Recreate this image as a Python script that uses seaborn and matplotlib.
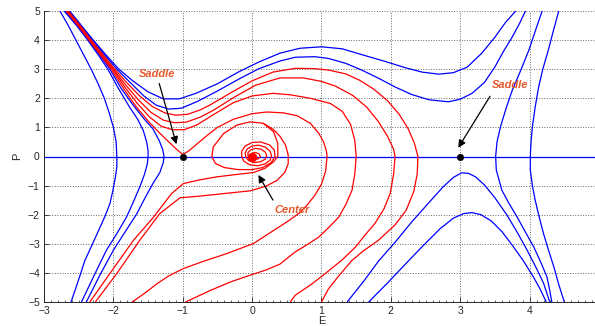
import numpy as np
import pandas as pd
import matplotlib
matplotlib.use("Agg")
import matplotlib.pyplot as plt
import seaborn as sns

# --------------------------------------------------------------------------
# trajectories (E, P)
# --------------------------------------------------------------------------
AXIS_E = [-3.0, 5.0]
AXIS_P = [0.0, 0.0]

# blue: left ")" shaped curves
B1_E = [-2.77, -2.65, -2.54, -2.43, -2.32, -2.22, -2.13, -2.06, -2.00, -1.96, -1.95,
        -1.95, -1.97, -2.01, -2.05, -2.12, -2.19, -2.30, -2.41, -2.51, -2.61]
B1_P = [5.0, 4.5, 4.0, 3.5, 3.0, 2.5, 2.0, 1.5, 1.0, 0.5, 0.0,
        -0.35, -0.70, -1.2, -1.62, -2.05, -2.42, -3.0, -3.57, -4.3, -5.0]
B2_E = [-2.71, -2.53, -2.37, -2.22, -2.08, -1.93, -1.77, -1.65, -1.57, -1.52, -1.50, -1.50,
        -1.51, -1.55, -1.62, -1.71, -1.81, -1.95, -2.10, -2.28, -2.46]
B2_P = [5.0, 4.5, 4.0, 3.5, 3.0, 2.35, 1.71, 1.28, 0.90, 0.50, 0.20, 0.0,
        -0.25, -0.6, -1.05, -1.55, -2.08, -2.65, -3.22, -4.1, -5.0]
B3_E = [-2.70, -2.52, -2.36, -2.20, -2.05, -1.89, -1.72, -1.56, -1.43, -1.34, -1.29, -1.27,
        -1.28, -1.33, -1.43, -1.55, -1.66, -1.82, -2.00, -2.20, -2.39]
B3_P = [5.0, 4.5, 4.0, 3.5, 3.0, 2.35, 1.78, 1.30, 0.95, 0.55, 0.25, 0.0,
        -0.2, -0.55, -0.93, -1.45, -1.96, -2.55, -3.22, -4.1, -5.0]

# blue: upper "S" curves
B4_E = [-2.63, -2.46, -2.29, -2.11, -1.92, -1.72, -1.50, -1.28, -1.05, -0.80, -0.50, -0.20,
        0.10, 0.40, 0.69, 1.00, 1.30, 1.58, 1.90, 2.21, 2.45, 2.69, 2.90, 3.10, 3.31, 3.50,
        3.65, 3.80]
B4_P = [5.0, 4.5, 4.0, 3.5, 3.0, 2.60, 2.22, 1.98, 1.98, 2.18, 2.50, 2.90,
        3.25, 3.55, 3.72, 3.77, 3.70, 3.50, 3.28, 3.05, 2.90, 2.83, 2.88, 3.07, 3.55, 4.10,
        4.60, 5.0]
B5_E = [-2.64, -2.47, -2.30, -2.13, -1.95, -1.76, -1.56, -1.38, -1.20, -1.02, -0.80, -0.50,
        -0.20, 0.10, 0.40, 0.62, 0.90, 1.10, 1.35, 1.58, 1.83, 2.06, 2.30, 2.55, 2.83, 3.00,
        3.17, 3.35, 3.50, 3.62, 3.75, 3.85, 3.94]
B5_P = [5.0, 4.5, 4.0, 3.5, 3.0, 2.55, 2.08, 1.76, 1.63, 1.66, 1.88, 2.25,
        2.65, 3.02, 3.28, 3.41, 3.43, 3.37, 3.20, 2.97, 2.68, 2.39, 2.13, 1.95, 1.88, 1.97,
        2.17, 2.55, 3.08, 3.60, 4.11, 4.55, 5.0]

# blue: right side
B6_E = [4.18, 4.08, 3.99, 3.87, 3.75, 3.66, 3.58, 3.53, 3.51, 3.52, 3.60, 3.70, 3.82,
        3.94, 4.06, 4.16, 4.25, 4.29, 4.32]
B6_P = [5.0, 4.3, 3.66, 2.95, 2.28, 1.65, 1.02, 0.5, 0.0, -0.47, -1.16, -1.6, -2.08,
        -2.6, -3.11, -3.63, -4.14, -4.6, -5.0]
B7_E = [4.42, 4.34, 4.27, 4.19, 4.13, 4.08, 4.04, 4.02, 4.01, 4.01, 4.04, 4.08, 4.14,
        4.20, 4.27, 4.35, 4.42, 4.50]
B7_P = [5.0, 4.3, 3.66, 3.0, 2.39, 1.7, 1.02, 0.5, 0.0, -0.47, -1.0, -1.50, -2.1,
        -2.65, -3.2, -3.80, -4.4, -5.0]
A1_E = [1.37, 1.62, 1.82, 2.06, 2.30, 2.55, 2.75, 2.90, 3.02, 3.12, 3.22, 3.35, 3.50,
        3.67, 3.82, 3.96, 4.10, 4.20, 4.29]
A1_P = [-5.0, -4.25, -3.6, -2.95, -2.25, -1.58, -1.05, -0.72, -0.56, -0.58, -0.70, -0.98,
        -1.42, -2.0, -2.6, -3.2, -3.85, -4.35, -5.0]
A2_E = [1.68, 1.95, 2.20, 2.45, 2.71, 2.90, 3.05, 3.17, 3.30, 3.45, 3.60, 3.75, 3.90,
        4.05, 4.15, 4.24]
A2_P = [-5.0, -4.35, -3.72, -3.1, -2.48, -2.12, -1.96, -1.93, -2.0, -2.22, -2.58, -3.05,
        -3.55, -4.12, -4.55, -5.0]

# red: trajectories from the top left, round the centre, out at the bottom
R1_E = [-2.65, -2.48, -2.32, -2.15, -1.98, -1.80, -1.62, -1.44, -1.26, -1.10, -0.93, -0.75,
        -0.60, -0.30, 0.00, 0.30, 0.62, 0.90, 1.10, 1.35, 1.55, 1.75, 1.95, 2.12, 2.25, 2.34,
        2.39, 2.38, 2.33, 2.22, 2.06, 1.82, 1.60, 1.44, 1.25, 1.10, 1.00]
R1_P = [5.0, 4.5, 4.0, 3.5, 3.0, 2.52, 2.08, 1.72, 1.50, 1.42, 1.45, 1.60,
        1.78, 2.20, 2.60, 2.90, 3.03, 3.02, 2.97, 2.84, 2.62, 2.32, 1.92, 1.45, 0.95, 0.45,
        0.0, -0.60, -1.20, -1.85, -2.35, -2.88, -3.25, -3.57, -4.10, -4.55, -5.0]
R2_E = [-2.66, -2.49, -2.33, -2.17, -2.00, -1.82, -1.64, -1.46, -1.28, -1.12, -0.95, -0.75,
        -0.55, -0.25, 0.05, 0.40, 0.74, 1.00, 1.20, 1.45, 1.65, 1.82, 1.95, 2.04, 2.06, 2.04,
        1.99, 1.90, 1.77, 1.62, 1.49, 1.30, 1.05, 0.85, 0.62, 0.55]
R2_P = [5.0, 4.5, 4.0, 3.5, 3.0, 2.45, 1.95, 1.52, 1.25, 1.16, 1.18, 1.35,
        1.60, 2.05, 2.45, 2.70, 2.70, 2.58, 2.42, 2.10, 1.70, 1.20, 0.70, 0.25, 0.0, -0.60,
        -1.27, -1.80, -2.30, -2.72, -3.11, -3.55, -4.03, -4.40, -4.77, -5.0]
R3_E = [-2.67, -2.50, -2.34, -2.18, -2.01, -1.84, -1.66, -1.48, -1.31, -1.15, -0.98, -0.80,
        -0.55, -0.27, 0.00, 0.30, 0.55, 0.84, 1.13, 1.30, 1.42, 1.48, 1.50, 1.48, 1.44, 1.35,
        1.25, 1.10, 0.96, 0.80, 0.62, 0.40, 0.20, -0.03, -0.30, -0.60, -0.96]
R3_P = [5.0, 4.5, 4.0, 3.5, 3.0, 2.40, 1.84, 1.36, 1.04, 0.92, 0.92, 1.08,
        1.45, 1.85, 2.08, 2.17, 2.12, 2.00, 1.82, 1.55, 1.10, 0.55, 0.0, -0.60, -1.16, -1.65,
        -2.08, -2.45, -2.77, -3.02, -3.28, -3.70, -3.90, -4.08, -4.30, -4.60, -5.0]
R4_E = [-2.68, -2.51, -2.35, -2.19, -2.03, -1.86, -1.68, -1.50, -1.34, -1.20, -1.09, -1.00,
        -0.92, -0.80, -0.65, -0.50, -0.27, 0.00, 0.21, 0.45, 0.65, 0.84, 0.96, 1.03, 1.07,
        1.08, 1.06, 1.00, 0.90, 0.78, 0.69, 0.50, 0.31, 0.02, -0.37, -0.70, -0.99, -1.20,
        -1.37, -1.55, -1.73]
R4_P = [5.0, 4.5, 4.0, 3.5, 3.0, 2.36, 1.74, 1.22, 0.82, 0.50, 0.25, 0.07,
        0.18, 0.42, 0.72, 1.00, 1.28, 1.47, 1.53, 1.50, 1.40, 1.14, 0.80, 0.50, 0.20,
        0.0, -0.50, -0.95, -1.35, -1.70, -1.93, -2.25, -2.54, -2.99, -3.34, -3.60, -3.85, -4.10,
        -4.37, -4.70, -5.0]

# red: spirals leaving the centre towards the bottom left
S1_E = [-2.34, -2.05, -1.71, -1.42, -1.16, -0.99, -0.75, -0.51, -0.27, 0.02, 0.19, 0.31, 0.37,
        0.37, 0.31, 0.16, -0.03, -0.22, -0.41, -0.56, -0.58,
        -0.53, -0.40, -0.20, 0.00, 0.15, 0.27, 0.33,
        0.32, 0.25, 0.12, 0.00, -0.10, -0.15, -0.15,
        -0.12, -0.04, 0.08, 0.19, 0.26, 0.28,
        0.26, 0.19, 0.09, 0.00, -0.07, -0.10, -0.09,
        -0.05, 0.03, 0.12, 0.19, 0.21,
        0.19, 0.13, 0.05, -0.02, -0.06, -0.06,
        -0.03, 0.03, 0.09, 0.12, 0.10, 0.05, 0.00, -0.02, 0.00]
S1_P = [-5.0, -4.02, -2.88, -2.08, -1.27, -0.93, -0.80, -0.70, -0.63, -0.55, -0.40, -0.18, 0.0,
        0.45, 0.85, 1.14, 1.19, 1.08, 0.79, 0.33, 0.0,
        -0.24, -0.38, -0.45, -0.45, -0.38, -0.22, 0.0,
        0.22, 0.40, 0.50, 0.48, 0.36, 0.18, 0.0,
        -0.16, -0.28, -0.32, -0.25, -0.12, 0.02,
        0.18, 0.32, 0.39, 0.36, 0.26, 0.12, -0.02,
        -0.14, -0.21, -0.18, -0.09, 0.03,
        0.15, 0.25, 0.28, 0.23, 0.13, 0.02,
        -0.07, -0.11, -0.08, 0.00, 0.09, 0.14, 0.11, 0.04, 0.00]
S2_E = [-2.26, -1.95, -1.62, -1.33, -1.04, -0.75, -0.51, -0.03, 0.20, 0.36, 0.47, 0.52,
        0.52, 0.48, 0.40, 0.30, 0.16]
S2_P = [-5.0, -4.02, -2.88, -1.96, -1.42, -1.36, -1.30, -1.18, -1.02, -0.82, -0.55, -0.25,
        0.05, 0.40, 0.70, 0.94, 1.14]

SADDLE_E = [-1.0, 3.0]
SADDLE_P = [0.0, 0.0]
CENTER_E = [0.0]
CENTER_P = [0.0]

BLUE = ["B1", "B2", "B3", "B4", "B5", "B6", "B7", "A1", "A2"]
RED = ["R1", "R2", "R3", "R4", "S1", "S2"]
# --------------------------------------------------------------------------

sns.set_style("ticks")
plt.rcParams["font.family"] = ["Liberation Sans", "DejaVu Sans"]

fig = plt.figure(figsize=(5.95, 3.26), dpi=100)
ax = fig.add_axes([44 / 595, 24 / 326, 555 / 595, 291 / 326])

g = globals()
LW = 0.9
sns.lineplot(x=AXIS_E, y=AXIS_P, color="#0000ff", lw=LW, ax=ax)
for name in BLUE:
    sns.lineplot(x=g[name + "_E"], y=g[name + "_P"], sort=False, estimator=None,
                 color="#0000ff", lw=LW, ax=ax)
for name in RED:
    sns.lineplot(x=g[name + "_E"], y=g[name + "_P"], sort=False, estimator=None,
                 color="#ff0000", lw=LW, ax=ax)

sns.scatterplot(x=SADDLE_E, y=SADDLE_P, color="k", s=22, edgecolor="k", zorder=5, ax=ax)
sns.scatterplot(x=CENTER_E, y=CENTER_P, color="#ff0000", s=40, edgecolor="#ff0000", zorder=5, ax=ax)

# annotations
TXT = "#e5582a"
ax.annotate("", xy=(-1.08, 0.33), xytext=(-1.35, 2.6),
            arrowprops=dict(arrowstyle="-|>", color="k", lw=0.9, mutation_scale=11))
ax.text(-1.37, 2.84, "Saddle", color=TXT, fontsize=8, fontweight="bold", fontstyle="italic",
        ha="center", va="center")
ax.annotate("", xy=(2.95, 0.22), xytext=(3.45, 2.15),
            arrowprops=dict(arrowstyle="-|>", color="k", lw=0.9, mutation_scale=11))
ax.text(3.72, 2.45, "Saddle", color=TXT, fontsize=8, fontweight="bold", fontstyle="italic",
        ha="center", va="center")
ax.annotate("", xy=(0.07, -0.55), xytext=(0.32, -1.58),
            arrowprops=dict(arrowstyle="-|>", color="k", lw=0.9, mutation_scale=11))
ax.text(0.58, -1.83, "Center", color=TXT, fontsize=8, fontweight="bold", fontstyle="italic",
        ha="center", va="center")

ax.set_xlim(-3, 5)
ax.set_ylim(-5, 5)
ax.set_xticks(range(-3, 5))
ax.set_yticks(range(-5, 6))
ax.set_xticks(np.arange(-3, 5.001, 0.1), minor=True)
ax.tick_params(which="major", direction="in", length=3.5, width=0.6, labelsize=7.5, pad=3)
ax.tick_params(which="minor", axis="x", direction="in", length=1.8, width=0.5)
ax.grid(True, which="major", linestyle=":", color="0.4", linewidth=0.7)
for s in ("top", "right"):
    ax.spines[s].set_visible(False)
for s in ("left", "bottom"):
    ax.spines[s].set_linewidth(0.7)
ax.set_xlabel("E", fontsize=8, labelpad=0)
ax.set_ylabel("P", fontsize=8, labelpad=4)

fig.savefig("out.png", dpi=100)
